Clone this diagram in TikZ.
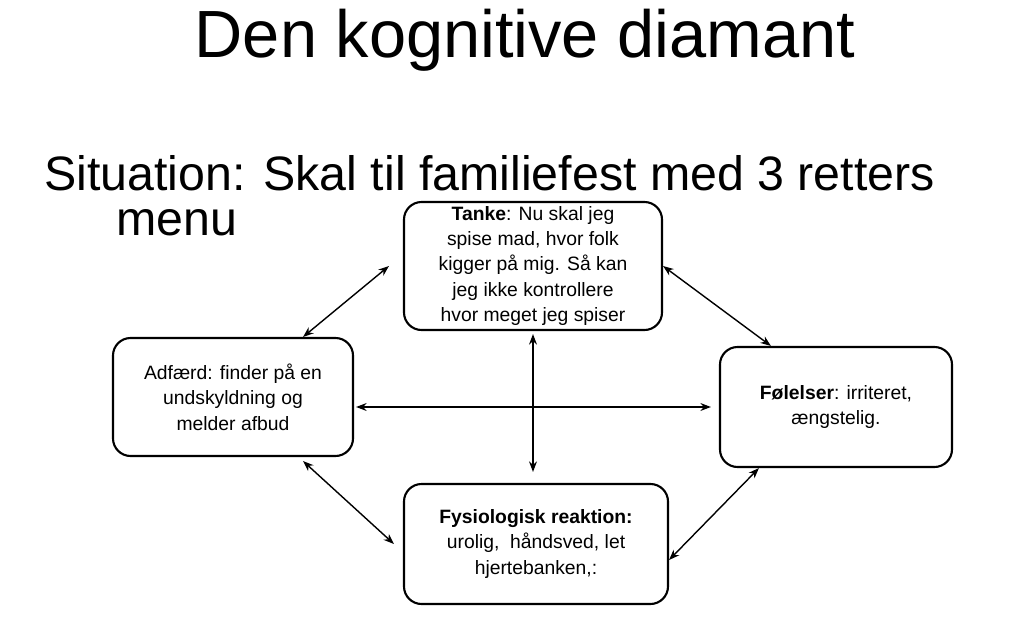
\documentclass[tikz,border=0pt]{standalone}
\usepackage{fontspec}
\setmainfont{Liberation Sans}
\usetikzlibrary{arrows.meta,positioning}
\tikzset{
  diabox/.style = {draw, very thick, rounded corners=10pt, align=center,
    font=\fontsize{11}{14.5}\selectfont, inner sep=2pt},
  link/.style = {thick, {Stealth[length=6pt]}-{Stealth[length=6pt]}}
}
\begin{document}
\begin{tikzpicture}[x=0.02cm,y=-0.02cm]
  \useasboundingbox (0,0) rectangle (1036,632);
  % overskrifter
  \node (title) at (525,40) {\fontsize{38}{44}\selectfont Den kognitive diamant};
  \node[anchor=west,align=left,font=\fontsize{27.5}{25.5}\selectfont] (situation) at (38,196)
    {Situation: Skal til familiefest med 3 retters\\
     \hspace{1.45cm}menu};

  % de fire hjoerner
  \node[diabox, minimum width=258*0.02cm, minimum height=128*0.02cm] (tanke) at (533,266)
    {\textbf{Tanke}: Nu skal jeg\\spise mad, hvor folk\\kigger på mig. Så kan\\jeg ikke kontrollere\\hvor meget jeg spiser};
  \node[diabox, minimum width=240*0.02cm, minimum height=118*0.02cm] (adfaerd) at (233,397)
    {Adfærd: finder på en\\undskyldning og\\melder afbud};
  \node[diabox, minimum width=232*0.02cm, minimum height=120*0.02cm] (foelelser) at (836,407)
    {\textbf{Følelser}: irriteret,\\ængstelig.};
  \node[diabox, minimum width=264*0.02cm, minimum height=120*0.02cm] (fysio) at (536,544)
    {\textbf{Fysiologisk reaktion:}\\urolig,\ \ håndsved, let\\hjertebanken,:};

  % forbindelser
  \draw[link] ([xshift=-14*0.02cm]tanke.west) -- ([xshift=-51*0.02cm]adfaerd.north east);
  \draw[link] (tanke.east) -- ([xshift=52*0.02cm]foelelser.north west);
  \draw[link] ([xshift=-51*0.02cm,yshift=-4*0.02cm]adfaerd.south east) -- ([xshift=-9*0.02cm]fysio.west);
  \draw[link] ([xshift=40*0.02cm]foelelser.south west) -- ([yshift=-16*0.02cm]fysio.east);
  \draw[link] ([xshift=2*0.02cm,yshift=-10*0.02cm]adfaerd.east) -- ([xshift=-8*0.02cm]foelelser.west);
  \draw[link] ([yshift=-3*0.02cm]tanke.south) -- ([xshift=-3*0.02cm,yshift=11*0.02cm]fysio.north);
\end{tikzpicture}
\end{document}
